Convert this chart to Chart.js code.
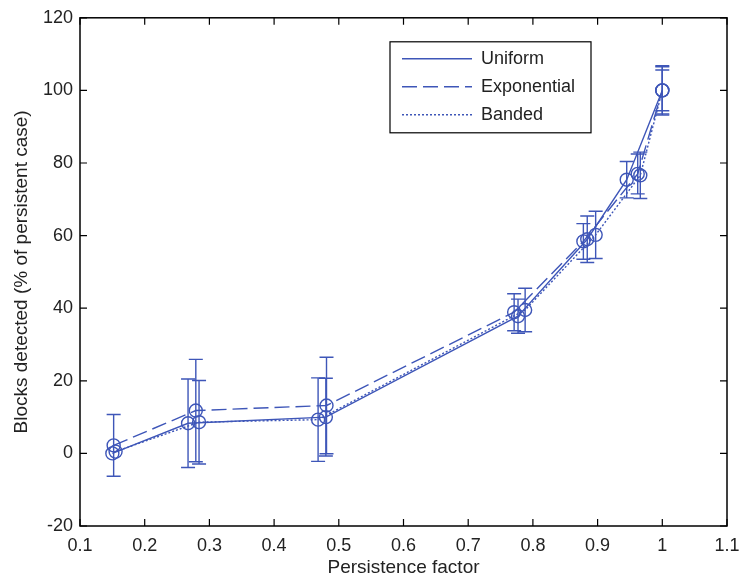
<!DOCTYPE html>
<html>
<head>
<meta charset="utf-8">
<script src="https://cdn.jsdelivr.net/npm/chart.js@4/dist/chart.umd.min.js"></script>
<style>
  html, body { margin: 0; padding: 0; background: #fff; }
  #wrap { width: 742px; height: 583px; }
</style>
</head>
<body>
<div id="wrap"><canvas id="myChart"></canvas></div>
<script>
// persistence factor vs blocks detected, mean +/- error
const uniformX = [0.150, 0.267, 0.480, 0.777, 0.884, 0.945, 1.0];
const uniformY = [0, 8.3, 10.0, 37.8, 59.0, 75.4, 100];
const uniformErr = [0, 12.2, 10.7, 4.7, 6.4, 5.0, 6.8];

const exponentialX = [0.152, 0.279, 0.481, 0.771, 0.878, 0.962, 1.0];
const exponentialY = [2.2, 11.8, 13.2, 38.9, 58.4, 77.0, 100];
const exponentialErr = [8.5, 14.1, 13.3, 5.1, 4.9, 5.5, 5.6];

const bandedX = [0.155, 0.284, 0.468, 0.788, 0.897, 0.966, 1.0];
const bandedY = [0.5, 8.6, 9.3, 39.5, 60.2, 76.6, 100];
const bandedErr = [0, 11.5, 11.5, 6.0, 6.5, 6.4, 6.5];

const seriesNames = ['Uniform', 'Exponential', 'Banded'];

const blue = 'rgb(62,86,184)';
const fontFamily = '"Liberation Sans", Arial, sans-serif';

function toPoints(xs, ys) {
    return xs.map((x, i) => ({ x: x, y: ys[i] }));
}

const errors = [uniformErr, exponentialErr, bandedErr];

// vertical error bars with caps
const errorBars = {
    id: 'errorBars',
    afterDatasetsDraw(chart) {
        const ctx = chart.ctx;
        const xs = chart.scales.x, ys = chart.scales.y;
        ctx.save();
        ctx.strokeStyle = blue;
        ctx.lineWidth = 1.4;
        chart.data.datasets.forEach((ds, di) => {
            ds.data.forEach((p, i) => {
                const e = errors[di][i];
                if (!e) return;
                const px = xs.getPixelForValue(p.x);
                const top = ys.getPixelForValue(p.y + e);
                const bot = ys.getPixelForValue(p.y - e);
                ctx.beginPath();
                ctx.moveTo(px, top); ctx.lineTo(px, bot);
                ctx.moveTo(px - 7, top); ctx.lineTo(px + 7, top);
                ctx.moveTo(px - 7, bot); ctx.lineTo(px + 7, bot);
                ctx.stroke();
            });
        });
        ctx.restore();
    }
};

// box around the plot with inward ticks, plus the legend
const frame = {
    id: 'frame',
    afterDraw(chart) {
        const ctx = chart.ctx;
        const a = chart.chartArea;
        const xs = chart.scales.x, ys = chart.scales.y;
        ctx.save();
        ctx.strokeStyle = '#000';
        ctx.lineWidth = 1.5;
        ctx.strokeRect(a.left, a.top, a.right - a.left, a.bottom - a.top);
        ctx.lineWidth = 1.2;
        ctx.beginPath();
        xs.ticks.forEach(t => {
            const px = xs.getPixelForValue(t.value);
            ctx.moveTo(px, a.bottom); ctx.lineTo(px, a.bottom - 7);
            ctx.moveTo(px, a.top); ctx.lineTo(px, a.top + 7);
        });
        ys.ticks.forEach(t => {
            const py = ys.getPixelForValue(t.value);
            ctx.moveTo(a.left, py); ctx.lineTo(a.left + 7, py);
            ctx.moveTo(a.right, py); ctx.lineTo(a.right - 7, py);
        });
        ctx.stroke();

        // legend
        const lx = a.left + 310, ly = a.top + 24, lw = 201, lh = 91;
        ctx.fillStyle = '#fff';
        ctx.fillRect(lx, ly, lw, lh);
        ctx.strokeStyle = '#000';
        ctx.lineWidth = 1.2;
        ctx.strokeRect(lx, ly, lw, lh);
        ctx.font = '18px ' + fontFamily;
        ctx.textBaseline = 'middle';
        chart.data.datasets.forEach((ds, i) => {
            const y = ly + 17 + i * 28;
            ctx.strokeStyle = blue;
            ctx.lineWidth = ds.borderWidth;
            ctx.setLineDash(ds.borderDash || []);
            ctx.beginPath();
            ctx.moveTo(lx + 12, y); ctx.lineTo(lx + 82, y);
            ctx.stroke();
            ctx.setLineDash([]);
            ctx.fillStyle = '#222';
            ctx.fillText(ds.label, lx + 91, y);
        });
        ctx.restore();
    }
};

const common = {
    borderColor: blue,
    backgroundColor: 'rgba(0,0,0,0)',
    borderWidth: 1.4,
    pointRadius: 6.5,
    pointBorderWidth: 1.4,
    pointBorderColor: blue,
    pointBackgroundColor: 'rgba(0,0,0,0)',
    tension: 0,
    fill: false
};

const ctx = document.getElementById('myChart');

new Chart(ctx, {
    type: 'line',
    data: {
        datasets: [
            Object.assign({ label: seriesNames[0], data: toPoints(uniformX, uniformY) }, common),
            Object.assign({ label: seriesNames[1], data: toPoints(exponentialX, exponentialY), borderDash: [15, 6] }, common),
            Object.assign({ label: seriesNames[2], data: toPoints(bandedX, bandedY), borderDash: [2, 2] }, common)
        ]
    },
    options: {
        responsive: true,
        maintainAspectRatio: false,
        animation: false,
        layout: { padding: { left: 0, right: 15, top: 16, bottom: 0 } },
        plugins: {
            legend: { display: false },
            tooltip: { enabled: false }
        },
        scales: {
            x: {
                type: 'linear',
                min: 0.1,
                max: 1.1,
                grid: { display: false, drawTicks: false },
                border: { display: false },
                ticks: {
                    stepSize: 0.1,
                    padding: 9,
                    color: '#222',
                    font: { family: fontFamily, size: 18 },
                    callback: v => String(Math.round(v * 10) / 10)
                },
                title: {
                    display: true,
                    text: 'Persistence factor',
                    color: '#222',
                    padding: { top: 0, bottom: 4 },
                    font: { family: fontFamily, size: 19 }
                },
                afterFit: s => {
                    s.height = 57;
                    s.paddingLeft = 0;
                    s.paddingRight = 0;
                }
            },
            y: {
                min: -20,
                max: 120,
                grid: { display: false, drawTicks: false },
                border: { display: false },
                ticks: {
                    stepSize: 20,
                    padding: 7,
                    color: '#222',
                    font: { family: fontFamily, size: 18 }
                },
                title: {
                    display: true,
                    text: 'Blocks detected (% of persistent case)',
                    color: '#222',
                    padding: { top: 10, bottom: 0 },
                    font: { family: fontFamily, size: 19 }
                },
                afterFit: s => { s.width = 80; }
            }
        }
    },
    plugins: [errorBars, frame]
});
</script>
</body>
</html>
